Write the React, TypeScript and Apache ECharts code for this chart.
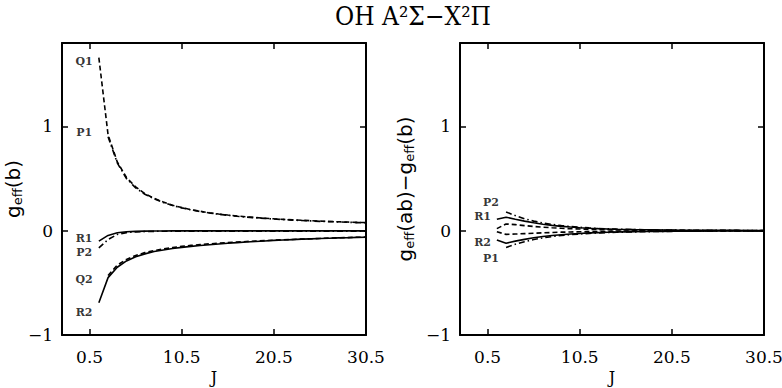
import { useEffect, useRef } from 'react';
import * as echarts from 'echarts';

const J = [1.5, 2.5, 3.5, 4.5, 5.5, 6.5, 7.5, 8.5, 9.5, 10.5, 11.5, 12.5, 13.5, 14.5, 15.5, 16.5, 17.5, 18.5, 19.5, 20.5, 21.5, 22.5, 23.5, 24.5, 25.5, 26.5, 27.5, 28.5, 29.5, 30.5];

// left panel: g_eff(b)
const Q1 = [1.66, 0.92, 0.66, 0.51, 0.42, 0.355, 0.31, 0.275, 0.245, 0.222, 0.202, 0.186, 0.172, 0.16, 0.15, 0.141, 0.133, 0.126, 0.12, 0.114, 0.109, 0.104, 0.1, 0.096, 0.092, 0.089, 0.086, 0.083, 0.08, 0.078];
const P1 = [null, 0.9, 0.65, 0.5, 0.41, 0.35, 0.305, 0.27, 0.242, 0.219, 0.2, 0.184, 0.17, 0.158, 0.148, 0.139, 0.131, 0.124, 0.118, 0.112, 0.107, 0.102, 0.098, 0.094, 0.09, 0.087, 0.084, 0.081, 0.078, 0.076];
const R1 = [-0.1, -0.045, -0.02, -0.01, -0.006, -0.004, -0.003, -0.003, -0.002, -0.002, -0.002, -0.002, -0.002, -0.002, -0.002, -0.002, -0.002, -0.002, -0.002, -0.002, -0.002, -0.002, -0.002, -0.002, -0.002, -0.002, -0.002, -0.002, -0.002, -0.002];
const P2 = [-0.165, -0.085, -0.035, -0.018, -0.011, -0.008, -0.006, -0.005, -0.005, -0.004, -0.004, -0.004, -0.004, -0.004, -0.004, -0.004, -0.004, -0.004, -0.004, -0.004, -0.004, -0.004, -0.004, -0.004, -0.004, -0.004, -0.004, -0.004, -0.004, -0.004];
const Q2 = [null, -0.43, -0.33, -0.275, -0.237, -0.21, -0.19, -0.175, -0.162, -0.15, -0.141, -0.133, -0.126, -0.12, -0.114, -0.109, -0.104, -0.099, -0.095, -0.091, -0.087, -0.084, -0.08, -0.077, -0.074, -0.071, -0.068, -0.066, -0.063, -0.061];
const R2 = [-0.69, -0.45, -0.35, -0.29, -0.25, -0.222, -0.2, -0.185, -0.171, -0.16, -0.15, -0.142, -0.134, -0.127, -0.12, -0.114, -0.108, -0.103, -0.098, -0.093, -0.089, -0.085, -0.081, -0.078, -0.075, -0.072, -0.069, -0.067, -0.064, -0.062];

// right panel: g_eff(ab) - g_eff(b)
const P2d = [null, 0.18, 0.145, 0.115, 0.092, 0.074, 0.06, 0.049, 0.04, 0.033, 0.027, 0.022, 0.018, 0.015, 0.013, 0.011, 0.009, 0.008, 0.007, 0.006, 0.005, 0.005, 0.004, 0.004, 0.003, 0.003, 0.003, 0.002, 0.002, 0.002];
const R1d = [0.11, 0.13, 0.11, 0.092, 0.076, 0.062, 0.051, 0.042, 0.035, 0.029, 0.024, 0.02, 0.017, 0.014, 0.012, 0.01, 0.009, 0.008, 0.007, 0.006, 0.005, 0.005, 0.004, 0.004, 0.003, 0.003, 0.003, 0.002, 0.002, 0.002];
const Q1d = [0.02, 0.065, 0.058, 0.049, 0.041, 0.034, 0.028, 0.023, 0.019, 0.016, 0.013, 0.011, 0.009, 0.008, 0.007, 0.006, 0.005, 0.004, 0.004, 0.003, 0.003, 0.003, 0.002, 0.002, 0.002, 0.002, 0.001, 0.001, 0.001, 0.001];
const Q2d = [-0.01, -0.035, -0.032, -0.028, -0.024, -0.02, -0.017, -0.014, -0.012, -0.01, -0.009, -0.008, -0.007, -0.006, -0.005, -0.004, -0.004, -0.003, -0.003, -0.003, -0.002, -0.002, -0.002, -0.002, -0.001, -0.001, -0.001, -0.001, -0.001, -0.001];
const R2d = [-0.09, -0.12, -0.1, -0.083, -0.068, -0.056, -0.046, -0.038, -0.031, -0.026, -0.021, -0.018, -0.015, -0.013, -0.011, -0.009, -0.008, -0.007, -0.006, -0.005, -0.005, -0.004, -0.004, -0.003, -0.003, -0.003, -0.002, -0.002, -0.002, -0.002];
const P1d = [null, -0.16, -0.13, -0.105, -0.085, -0.069, -0.056, -0.046, -0.038, -0.031, -0.026, -0.021, -0.018, -0.015, -0.013, -0.011, -0.009, -0.008, -0.007, -0.006, -0.005, -0.005, -0.004, -0.004, -0.003, -0.003, -0.003, -0.002, -0.002, -0.002];

const xTicks = [0.5, 10.5, 20.5, 30.5];
const yTicks = [-1, 0, 1];
const X_MIN = -2.5;
const X_MAX = 30.5;
const Y_MIN = -1;
const Y_MAX = 1.8;

// label anchor positions (data coordinates)
const leftLabels = [
  { name: 'Q1', value: [-0.1, 1.62] },
  { name: 'P1', value: [-0.1, 0.94] },
  { name: 'R1', value: [-0.1, -0.07] },
  { name: 'P2', value: [-0.1, -0.21] },
  { name: 'Q2', value: [-0.1, -0.47] },
  { name: 'R2', value: [-0.1, -0.78] },
];
const rightLabels = [
  { name: 'P2', value: [0.85, 0.27] },
  { name: 'R1', value: [-0.05, 0.135] },
  { name: 'R2', value: [-0.05, -0.115] },
  { name: 'P1', value: [0.85, -0.27] },
];

const SOLID = 'solid';
const DASH = [5, 3];
const DASHDOT = [6, 3, 1.5, 3];

const pairs = (vals: (number | null)[]) =>
  J.map((j, i) => [j, vals[i]]).filter((p) => p[1] !== null);

const fmtY = (v: number) => (v < 0 ? '\u2212' + Math.abs(v) : String(v));

const SERIF = 'DejaVu Serif';
const SANS = 'DejaVu Sans';

function App() {
  const ref = useRef<HTMLDivElement>(null);
  useEffect(() => {
    const chart = echarts.init(ref.current!, null, { renderer: 'svg' });

    const frameLine = { show: true, onZero: false, lineStyle: { color: '#000', width: 2 } };
    const xBottom = (gridIndex: number) => ({
      type: 'value',
      gridIndex,
      position: 'bottom',
      min: X_MIN,
      max: X_MAX,
      axisLine: frameLine,
      axisTick: { show: true, inside: true, length: 6, customValues: xTicks, lineStyle: { color: '#000', width: 1.5 } },
      axisLabel: { show: true, customValues: xTicks, color: '#000', fontFamily: SERIF, fontSize: 17, margin: 13 },
      splitLine: { show: false },
      name: 'J',
      nameLocation: 'middle',
      nameGap: 32,
      nameTextStyle: { color: '#000', fontFamily: SERIF, fontSize: 16 },
    });
    const xTop = (gridIndex: number) => ({
      type: 'value',
      gridIndex,
      position: 'top',
      min: X_MIN,
      max: X_MAX,
      axisLine: frameLine,
      axisTick: { show: true, inside: true, length: 6, customValues: xTicks, lineStyle: { color: '#000', width: 1.5 } },
      axisLabel: { show: false },
      splitLine: { show: false },
    });
    const rich = {
      m: { fontFamily: SANS, fontSize: 20, color: '#000', lineHeight: 22, verticalAlign: 'middle' },
      s: { fontFamily: SANS, fontSize: 13, color: '#000', lineHeight: 11, verticalAlign: 'bottom' },
    };
    const yLeft = (gridIndex: number, name: string, gap: number) => ({
      type: 'value',
      gridIndex,
      position: 'left',
      min: Y_MIN,
      max: Y_MAX,
      axisLine: frameLine,
      axisTick: { show: true, inside: true, length: 6, customValues: yTicks, lineStyle: { color: '#000', width: 1.5 } },
      axisLabel: { show: true, customValues: yTicks, formatter: fmtY, color: '#000', fontFamily: SERIF, fontSize: 17, margin: 9 },
      splitLine: { show: false },
      name,
      nameLocation: 'middle',
      nameGap: gap,
      nameTextStyle: { rich },
    });
    const yRight = (gridIndex: number) => ({
      type: 'value',
      gridIndex,
      position: 'right',
      min: Y_MIN,
      max: Y_MAX,
      axisLine: frameLine,
      axisTick: { show: true, inside: true, length: 6, customValues: yTicks, lineStyle: { color: '#000', width: 1.5 } },
      axisLabel: { show: false },
      splitLine: { show: false },
    });

    const line = (name: string, vals: (number | null)[], type: any, xi: number, yi: number) => ({
      name,
      type: 'line',
      xAxisIndex: xi,
      yAxisIndex: yi,
      data: pairs(vals),
      showSymbol: false,
      symbol: 'none',
      smooth: false,
      lineStyle: { color: '#000', width: 1.6, type },
      z: 3,
    });

    const labelSeries = (data: any[], xi: number, yi: number) => ({
      type: 'scatter',
      xAxisIndex: xi,
      yAxisIndex: yi,
      data,
      symbolSize: 1,
      itemStyle: { color: 'transparent' },
      label: { show: true, position: 'inside', formatter: '{b}', color: '#000', fontFamily: SERIF, fontSize: 11, fontWeight: 'bold' },
      z: 4,
    });

    chart.setOption({
      animation: false,
      backgroundColor: '#fff',
      graphic: [
        {
          type: 'text',
          x: 413,
          y: 16,
          style: {
            text: 'OH A\u00b2\u03a3\u2212X\u00b2\u03a0',
            fill: '#000',
            font: '26px "DejaVu Serif Condensed", "DejaVu Serif", serif',
            align: 'center',
            verticalAlign: 'middle',
            textAlign: 'center',
            textVerticalAlign: 'middle',
          },
        },
      ],
      grid: [
        { left: 62, right: 416, top: 43, bottom: 53, outerBoundsMode: 'none', containLabel: false },
        { left: 460, right: 18, top: 43, bottom: 53, outerBoundsMode: 'none', containLabel: false },
      ],
      xAxis: [xBottom(0), xTop(0), xBottom(1), xTop(1)],
      yAxis: [
        yLeft(0, '{m|g}{s|eff}{m|(b)}', 38),
        yRight(0),
        yLeft(1, '{m|g}{s|eff}{m|(ab)\u2212g}{s|eff}{m|(b)}', 44),
        yRight(1),
      ],
      series: [
        line('Q1', Q1, DASH, 0, 0),
        line('P1', P1, DASHDOT, 0, 0),
        line('R1', R1, SOLID, 0, 0),
        line('P2', P2, DASHDOT, 0, 0),
        line('Q2', Q2, DASH, 0, 0),
        line('R2', R2, SOLID, 0, 0),
        labelSeries(leftLabels, 0, 0),
        line('P2d', P2d, DASHDOT, 2, 2),
        line('R1d', R1d, SOLID, 2, 2),
        line('Q1d', Q1d, DASH, 2, 2),
        line('Q2d', Q2d, DASH, 2, 2),
        line('R2d', R2d, SOLID, 2, 2),
        line('P1d', P1d, DASHDOT, 2, 2),
        labelSeries(rightLabels, 2, 2),
      ],
    });
    return () => chart.dispose();
  }, []);
  return (
    <div
      ref={ref}
      style={{ position: 'absolute', left: 0, top: 0, width: 782, height: 388, background: '#fff' }}
    />
  );
}

export default App;
